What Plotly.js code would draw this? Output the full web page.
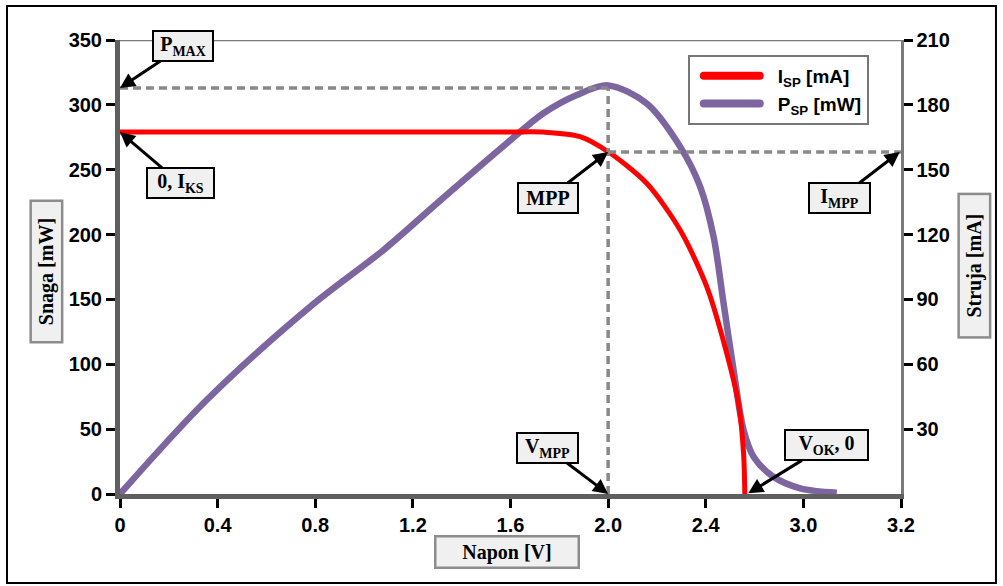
<!DOCTYPE html>
<html>
<head>
<meta charset="utf-8">
<script src="https://cdn.plot.ly/plotly-3.0.1.min.js"></script>
<style>html,body{margin:0;padding:0;background:#fff;}#chart{width:1003px;height:586px;}</style>
</head>
<body>
<div id="chart"></div>
<script>
// Current curve (right axis, mA)
var currentV = [0, 0.8, 1.5, 1.65, 1.735, 1.885, 2.0, 2.158, 2.295, 2.404, 2.486, 2.534, 2.555, 2.56];
var currentI = [167.5, 167.5, 167.5, 167.5, 167.4, 165.3, 158.3, 143.7, 122.1, 95.9, 65.1, 41.9, 18.8, 0];
// Power curve (left axis, mW)
var powerV = [0, 0.355, 0.779, 1.079, 1.298, 1.585, 1.735, 1.872, 2.0, 2.158, 2.295, 2.377, 2.432, 2.473, 2.514, 2.555, 2.596, 2.677, 2.787, 2.937];
var powerP = [0, 72.5, 144.4, 188, 224, 270.4, 293.5, 307.6, 315, 301, 267.8, 237, 198.4, 147, 95.6, 49.3, 28.8, 13.3, 4.4, 1];
// Key points
var Vmpp = 2.0, Pmax = 313, ImppLeft = 263.7, Iks = 279, Voc = 2.574;
// Tick labels
var xTickVals = [0, 0.4, 0.8, 1.2, 1.6, 2.0, 2.4, 2.8, 3.2];
var xTickText = ['0', '0.4', '0.8', '1.2', '1.6', '2.0', '2.4', '3.0', '3.2'];
var yLeftTicks = [0, 50, 100, 150, 200, 250, 300, 350];
var yRightTicks = [30, 60, 90, 120, 150, 180, 210];

var tickFont = {family: 'Liberation Sans, Arial, sans-serif', size: 20, color: '#000', weight: 'bold'};
var serif = 'Liberation Serif, Times New Roman, serif';

var traces = [
  {x: currentV, y: currentI, yaxis: 'y2', type: 'scatter', mode: 'lines', name: 'I<sub>SP</sub> [mA]',
   line: {color: '#ff0000', width: 5, shape: 'spline', smoothing: 0.8}},
  {x: powerV, y: powerP, type: 'scatter', mode: 'lines', name: 'P<sub>SP</sub> [mW]',
   line: {color: '#7d66a0', width: 6.5, shape: 'spline', smoothing: 0.9}}
];

function box(text, x, y, ax, ay, w) {
  return {x: x, y: y, xref: 'x', yref: 'y', text: text, showarrow: true, ax: ax, ay: ay,
    arrowhead: 2, arrowsize: 1, arrowwidth: 3, arrowcolor: '#000',
    bgcolor: '#f0f0f0', bordercolor: '#000', borderwidth: 2, borderpad: 3,
    width: w, height: 22, font: {family: serif, size: 20, color: '#000', weight: 'bold'}};
}
function axbox(text, x, y, angle, w) {
  return {x: x, y: y, xref: 'paper', yref: 'paper', xanchor: 'center', yanchor: 'middle',
    text: text, showarrow: false, textangle: angle,
    bgcolor: '#f0f0f0', bordercolor: '#8c8c8c', borderwidth: 2.5, borderpad: 2,
    width: w, height: 25, font: {family: serif, size: 20, color: '#000', weight: 'bold'}};
}

var layout = {
  width: 1003, height: 586,
  margin: {l: 120, r: 102, t: 40, b: 92},
  paper_bgcolor: '#fff', plot_bgcolor: '#fff',
  showlegend: true,
  legend: {x: 0.727, y: 0.967, xanchor: 'left', yanchor: 'top', bordercolor: '#777', borderwidth: 2,
    bgcolor: '#fff', font: {family: 'Liberation Sans, Arial, sans-serif', size: 19, color: '#000', weight: 'bold'},
    itemwidth: 78, tracegroupgap: 4},
  xaxis: {range: [0, 3.2], tickvals: xTickVals, ticktext: xTickText, showgrid: false, zeroline: false,
    showline: true, linecolor: '#5f5f5f', linewidth: 5, ticks: 'outside', ticklen: 9, tickwidth: 3,
    tickcolor: '#000', tickfont: tickFont, layer: 'below traces'},
  yaxis: {range: [0, 350], tickvals: yLeftTicks, showgrid: false, zeroline: false,
    showline: true, linecolor: '#5f5f5f', linewidth: 5, ticks: 'outside', ticklen: 9, tickwidth: 3,
    tickcolor: '#000', tickfont: tickFont, layer: 'below traces'},
  yaxis2: {range: [0, 210], tickvals: yRightTicks, overlaying: 'y', side: 'right', showgrid: false,
    zeroline: false, showline: true, linecolor: '#7a7a7a', linewidth: 2.5, ticks: 'outside', ticklen: 9,
    tickwidth: 3, tickcolor: '#000', tickfont: tickFont, layer: 'below traces'},
  shapes: [
    {type: 'line', xref: 'x', yref: 'y', x0: 0, x1: 3.2, y0: 350, y1: 350, line: {color: '#7a7a7a', width: 2.5}, layer: 'below'},
    {type: 'line', xref: 'x', yref: 'y', x0: 0, x1: Vmpp, y0: Pmax, y1: Pmax, line: {color: '#888', width: 3.5, dash: '8px,5px'}},
    {type: 'line', xref: 'x', yref: 'y', x0: Vmpp, x1: Vmpp, y0: 0, y1: Pmax, line: {color: '#888', width: 3.5, dash: '8px,5px'}},
    {type: 'line', xref: 'x', yref: 'y', x0: Vmpp, x1: 3.2, y0: ImppLeft, y1: ImppLeft, line: {color: '#888', width: 3.5, dash: '8px,5px'}},
    {type: 'rect', xref: 'paper', yref: 'paper', x0: -0.1447, x1: 1.1216, y0: -0.196, y1: 1.0749, line: {color: '#000', width: 2}, layer: 'below'}
  ],
  annotations: [
    box('P<sub>MAX</sub>', 0, Pmax, 63, -42, 52),
    box('0, I<sub>KS</sub>', 0, Iks, 60, 51, 59),
    box('MPP', Vmpp, ImppLeft, -60, 46, 52),
    box('I<sub>MPP</sub>', 3.195, ImppLeft, -60, 46, 53),
    box('V<sub>MPP</sub>', Vmpp, 0, -61, -46, 53),
    box('V<sub>OK</sub>, 0', Voc, 0.5, 78, -48, 75),
    axbox('Snaga [mW]', -0.0948, 0.490, -90, 135),
    axbox('Struja [mA]', 1.0935, 0.503, -90, 137),
    axbox('Napon [V]', 0.496, -0.1267, 0, 137)
  ]
};

Plotly.newPlot('chart', traces, layout, {displayModeBar: false, staticPlot: true}).then(function () {
  document.querySelectorAll('.legend .legendlines path').forEach(function (p) {
    p.setAttribute('d', 'M14,0h56');
    p.style.strokeLinecap = 'round';
    p.style.strokeWidth = '8px';
  });
});
</script>
</body>
</html>
